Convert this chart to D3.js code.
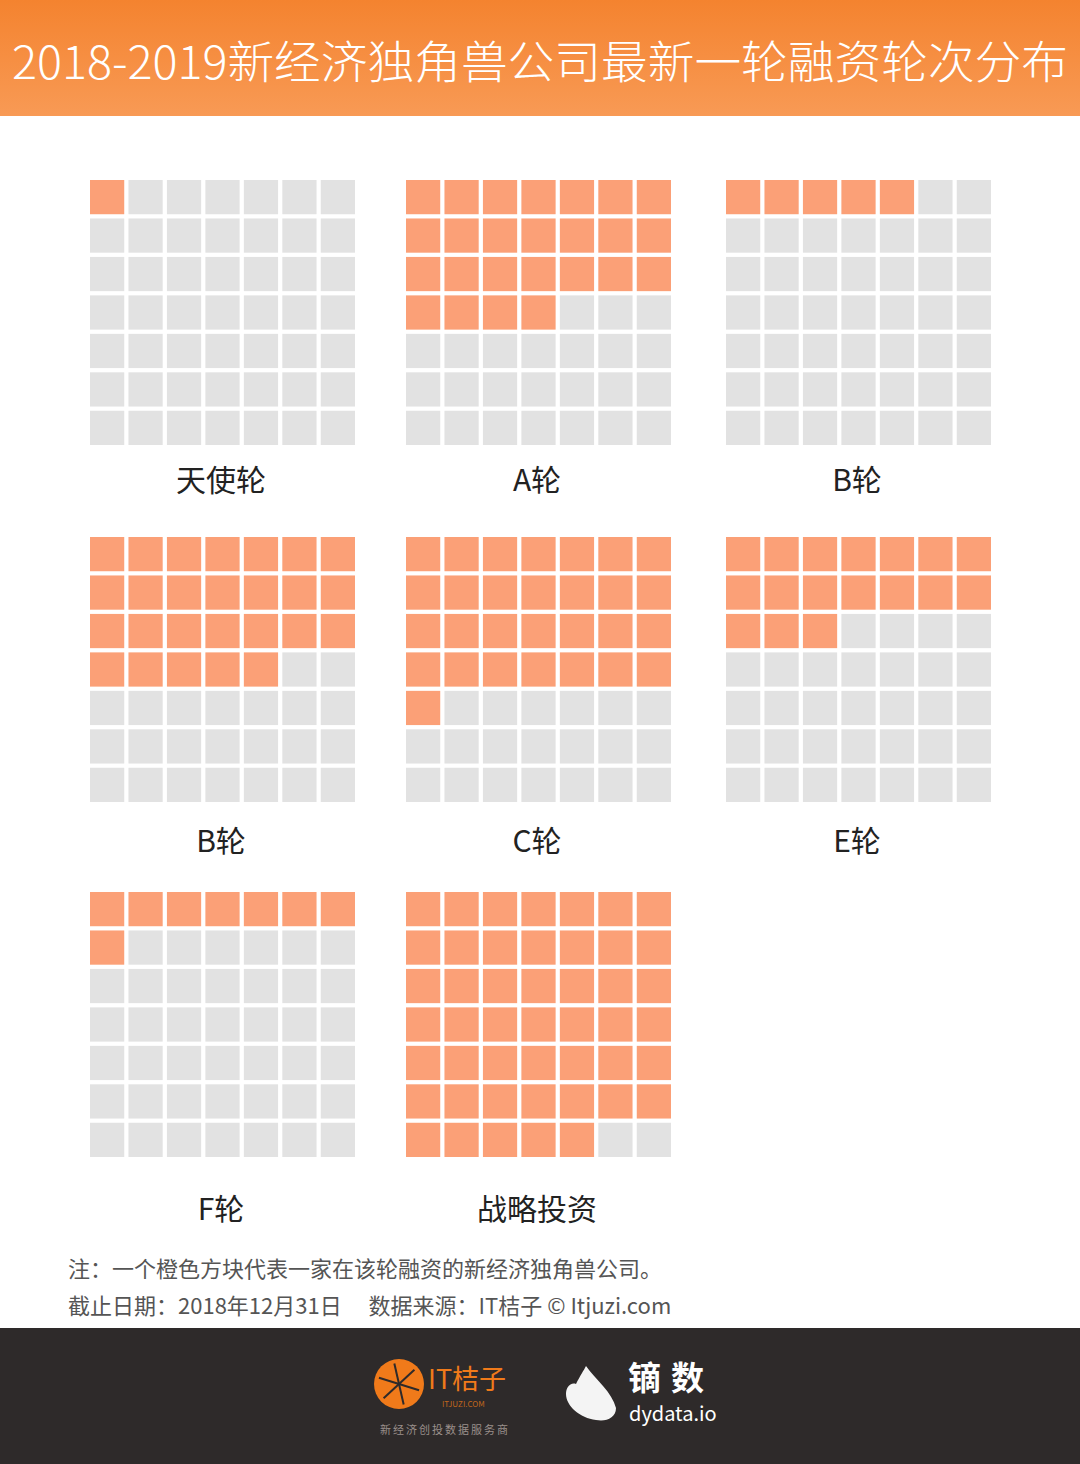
<!DOCTYPE html>
<html lang="zh">
<head>
<meta charset="UTF-8">
<title>2018-2019新经济独角兽公司最新一轮融资轮次分布</title>
<style>
  body { margin: 0; background: #fff; }
  svg text { font-family: "Noto Sans CJK SC", "Noto Sans", sans-serif; }
</style>
</head>
<body>
<div id="chart"></div>
<script src="https://d3js.org/d3.v7.min.js"></script>
<script>
// rounds and number of unicorns (one orange square = one company)
const rounds = ["天使轮", "A轮", "B轮", "B轮", "C轮", "E轮", "F轮", "战略投资"];
const counts = [1, 25, 5, 26, 29, 17, 8, 47];
const gridSide = 7;
const noteLines = [
  "注：一个橙色方块代表一家在该轮融资的新经济独角兽公司。",
  "截止日期：2018年12月31日　 数据来源：IT桔子 © Itjuzi.com"
];

const width = 1080, height = 1464;
const svg = d3.select("#chart").append("svg")
  .attr("width", width).attr("height", height);

// header band
const grad = svg.append("defs").append("linearGradient")
  .attr("id", "hdr").attr("x1", 0).attr("y1", 0).attr("x2", 0).attr("y2", 1);
grad.append("stop").attr("offset", "0%").attr("stop-color", "#f4832f");
grad.append("stop").attr("offset", "100%").attr("stop-color", "#f89a55");
svg.append("rect").attr("width", width).attr("height", 116).attr("fill", "url(#hdr)");
svg.append("text")
  .attr("x", width / 2).attr("y", 79)
  .attr("text-anchor", "middle")
  .attr("fill", "#fff")
  .attr("font-size", 45)
  .attr("font-weight", 300)
  .attr("textLength", 1056)
  .attr("lengthAdjust", "spacingAndGlyphs")
  .text("2018-2019新经济独角兽公司最新一轮融资轮次分布");

// panel layout
const colX = [90, 406, 726];
const rowY = [180, 537, 892];
const labelGap = [46, 50, 63];
const panelSize = 265;

const band = d3.scaleBand()
  .domain(d3.range(gridSide))
  .range([0, panelSize])
  .paddingInner(0.11)
  .paddingOuter(0);

rounds.forEach((name, i) => {
  const row = Math.floor(i / 3);
  const px = colX[i % 3], py = rowY[row];
  const g = svg.append("g").attr("transform", `translate(${px},${py})`);
  const cells = d3.range(gridSide * gridSide).map(k => ({
    r: Math.floor(k / gridSide), c: k % gridSide, on: k < counts[i]
  }));
  g.selectAll("rect").data(cells).enter().append("rect")
    .attr("x", d => band(d.c))
    .attr("y", d => band(d.r))
    .attr("width", band.bandwidth())
    .attr("height", band.bandwidth())
    .attr("fill", d => d.on ? "#fba077" : "#e2e2e2");
  g.append("text")
    .attr("x", 131)
    .attr("y", panelSize + labelGap[row])
    .attr("text-anchor", "middle")
    .attr("fill", "#222")
    .attr("font-size", 30)
    .text(name);
});

// notes
svg.selectAll(".note").data(noteLines).enter().append("text")
  .attr("class", "note")
  .attr("x", 68)
  .attr("y", (d, i) => 1277 + i * 37)
  .attr("fill", "#555")
  .attr("font-size", 22)
  .text(d => d);

// footer band
svg.append("rect").attr("y", 1328).attr("width", width).attr("height", height - 1328)
  .attr("fill", "#2e2a2a");

// IT桔子 logo
const lg = svg.append("g").attr("transform", "translate(399,1384)");
lg.append("circle").attr("r", 25).attr("fill", "#f07a1a");
d3.range(6).forEach(k => {
  const a = k * Math.PI / 3 + 0.3;
  lg.append("line")
    .attr("x1", 0).attr("y1", 0)
    .attr("x2", 21 * Math.cos(a)).attr("y2", 21 * Math.sin(a))
    .attr("stroke", "#2e2a2a").attr("stroke-width", 2);
});
svg.append("text").attr("x", 428).attr("y", 1389)
  .attr("fill", "#f07a1a").attr("font-size", 27).text("IT桔子");
svg.append("text").attr("x", 442).attr("y", 1407)
  .attr("fill", "#c0661c").attr("font-size", 8).text("ITJUZI.COM");
svg.append("text").attr("x", 380).attr("y", 1434)
  .attr("fill", "#9a8f8a").attr("font-size", 11).attr("letter-spacing", 2)
  .text("新经济创投数据服务商");

// dydata logo
svg.append("path")
  .attr("d", "M586,1366 C596,1380 612,1392 616,1408 C616,1418 606,1422 596,1420 C580,1418 566,1406 566,1394 C566,1388 570,1382 576,1384 C580,1376 584,1370 586,1366 Z")
  .attr("fill", "#f4f4f4");
svg.append("text").attr("x", 628).attr("y", 1390)
  .attr("fill", "#fff").attr("font-size", 33).attr("font-weight", "bold")
  .attr("letter-spacing", 10).text("镝数");
svg.append("text").attr("x", 629).attr("y", 1421)
  .attr("fill", "#fff").attr("font-size", 20).text("dydata.io");
</script>
</body>
</html>
